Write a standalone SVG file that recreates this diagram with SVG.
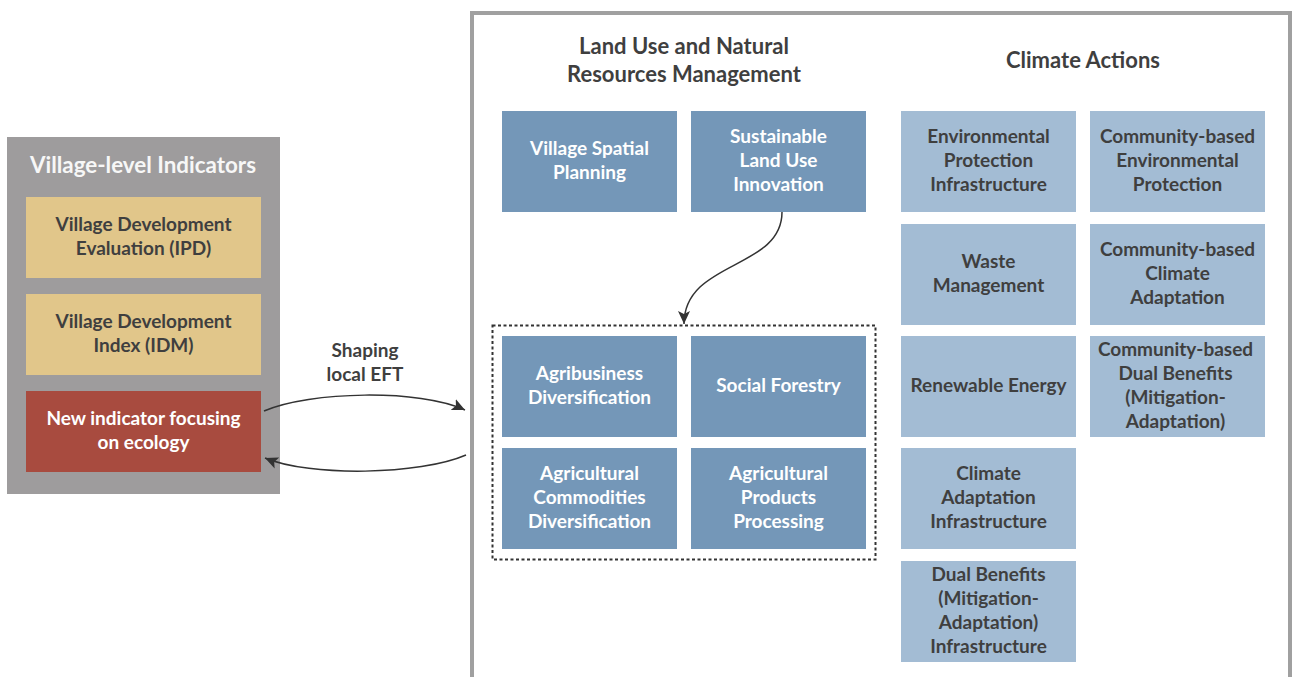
<svg xmlns="http://www.w3.org/2000/svg" width="1293" height="677" viewBox="0 0 1293 677">
<defs>
<style>
text{font-family:Lato,"Open Sans","Liberation Sans",sans-serif;font-weight:700;text-anchor:middle}
.t{font-size:19px}
.w{fill:#ffffff}
.d{fill:#3f3f3f}
.h{font-size:22px;fill:#3f3f3f}
.lu{fill:#7497b8}
.ca{fill:#a3bcd4}
.tan{fill:#e1c68a}
.conn{fill:none;stroke:#333333;stroke-width:1.5}
</style>
<marker id="ah" markerUnits="userSpaceOnUse" markerWidth="14" markerHeight="12" viewBox="0 0 14 12" refX="13" refY="6" orient="auto">
<path d="M0,0 L13,6 L0,12 L3,6 Z" fill="#333333"/>
</marker>
</defs>
<rect width="1293" height="677" fill="#ffffff"/>

<g id="village-panel">
<rect x="7" y="137" width="273" height="357" fill="#9e9c9d"/>
<text x="143" y="173" style="font-size:22.4px" fill="#f7f7f7">Village-level Indicators</text>
</g>
<g id="ipd">
<rect class="tan" x="26" y="197" width="235" height="81"/>
<text class="t d"><tspan x="143.5" y="231">Village Development</tspan><tspan x="143.5" y="255">Evaluation (IPD)</tspan></text>
</g>
<g id="idm">
<rect class="tan" x="26" y="294" width="235" height="81"/>
<text class="t d"><tspan x="143.5" y="328">Village Development</tspan><tspan x="143.5" y="352">Index (IDM)</tspan></text>
</g>
<g id="new-indicator">
<rect x="26" y="391" width="235" height="81" fill="#a84b3f"/>
<text class="t w"><tspan x="143.5" y="425">New indicator focusing</tspan><tspan x="143.5" y="449">on ecology</tspan></text>
</g>

<g id="frame">
<rect x="472" y="13" width="818" height="720" fill="none" stroke="#a0a0a0" stroke-width="4"/>
<text class="h"><tspan x="684" y="54">Land Use and Natural</tspan><tspan x="684" y="82">Resources Management</tspan></text>
<text class="h" x="1083" y="68">Climate Actions</text>
</g>

<g id="village-spatial-planning">
<rect class="lu" x="502" y="111" width="175" height="101"/>
<text class="t w"><tspan x="589.5" y="155">Village Spatial</tspan><tspan x="589.5" y="179">Planning</tspan></text>
</g>
<g id="sustainable-land-use">
<rect class="lu" x="691" y="111" width="175" height="101"/>
<text class="t w"><tspan x="778.5" y="143">Sustainable</tspan><tspan x="778.5" y="167">Land Use</tspan><tspan x="778.5" y="191">Innovation</tspan></text>
</g>

<g id="diversification-group">
<rect x="492.5" y="325.5" width="383" height="234" fill="none" stroke="#333333" stroke-width="2" stroke-dasharray="3 2.5"/>
</g>
<g id="agribusiness">
<rect class="lu" x="502" y="336" width="175" height="101"/>
<text class="t w"><tspan x="589.5" y="380">Agribusiness</tspan><tspan x="589.5" y="404">Diversification</tspan></text>
</g>
<g id="social-forestry">
<rect class="lu" x="691" y="336" width="175" height="101"/>
<text class="t w" x="778.5" y="392">Social Forestry</text>
</g>
<g id="agri-commodities">
<rect class="lu" x="502" y="448" width="175" height="101"/>
<text class="t w"><tspan x="589.5" y="480">Agricultural</tspan><tspan x="589.5" y="504">Commodities</tspan><tspan x="589.5" y="528">Diversification</tspan></text>
</g>
<g id="agri-products">
<rect class="lu" x="691" y="448" width="175" height="101"/>
<text class="t w"><tspan x="778.5" y="480">Agricultural</tspan><tspan x="778.5" y="504">Products</tspan><tspan x="778.5" y="528">Processing</tspan></text>
</g>

<g id="env-protection-infra">
<rect class="ca" x="901" y="111" width="175" height="101"/>
<text class="t d"><tspan x="988.5" y="143">Environmental</tspan><tspan x="988.5" y="167">Protection</tspan><tspan x="988.5" y="191">Infrastructure</tspan></text>
</g>
<g id="waste-management">
<rect class="ca" x="901" y="224" width="175" height="101"/>
<text class="t d"><tspan x="988.5" y="268">Waste</tspan><tspan x="988.5" y="292">Management</tspan></text>
</g>
<g id="renewable-energy">
<rect class="ca" x="901" y="336" width="175" height="101"/>
<text class="t d" x="988.5" y="392">Renewable Energy</text>
</g>
<g id="climate-adaptation-infra">
<rect class="ca" x="901" y="448" width="175" height="101"/>
<text class="t d"><tspan x="988.5" y="480">Climate</tspan><tspan x="988.5" y="504">Adaptation</tspan><tspan x="988.5" y="528">Infrastructure</tspan></text>
</g>
<g id="dual-benefits-infra">
<rect class="ca" x="901" y="561" width="175" height="101"/>
<text class="t d"><tspan x="988.5" y="581">Dual Benefits</tspan><tspan x="988.5" y="605">(Mitigation-</tspan><tspan x="988.5" y="629">Adaptation)</tspan><tspan x="988.5" y="653">Infrastructure</tspan></text>
</g>
<g id="cb-env-protection">
<rect class="ca" x="1090" y="111" width="175" height="101"/>
<text class="t d"><tspan x="1177.5" y="143">Community-based</tspan><tspan x="1177.5" y="167">Environmental</tspan><tspan x="1177.5" y="191">Protection</tspan></text>
</g>
<g id="cb-climate-adaptation">
<rect class="ca" x="1090" y="224" width="175" height="101"/>
<text class="t d"><tspan x="1177.5" y="256">Community-based</tspan><tspan x="1177.5" y="280">Climate</tspan><tspan x="1177.5" y="304">Adaptation</tspan></text>
</g>
<g id="cb-dual-benefits">
<rect class="ca" x="1090" y="336" width="175" height="101"/>
<text class="t d"><tspan x="1175.5" y="356">Community-based</tspan><tspan x="1175.5" y="380">Dual Benefits</tspan><tspan x="1175.5" y="404">(Mitigation-</tspan><tspan x="1175.5" y="428">Adaptation)</tspan></text>
</g>

<g id="connectors">
<path class="conn" d="M782,212 C782,270 684,260 684,324" marker-end="url(#ah)"/>
<path class="conn" d="M264,411 C310,391 420,389 465,410" marker-end="url(#ah)"/>
<path class="conn" d="M466,455 C420,475 310,477 265,458" marker-end="url(#ah)"/>
<text class="t d"><tspan x="365" y="357">Shaping</tspan><tspan x="365" y="381">local EFT</tspan></text>
</g>
</svg>
